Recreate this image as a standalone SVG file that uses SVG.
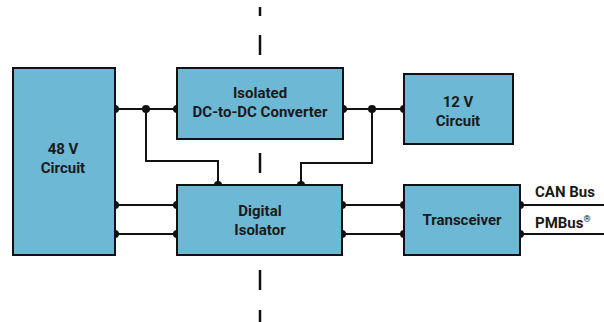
<svg xmlns="http://www.w3.org/2000/svg" width="604" height="322" viewBox="0 0 604 322">
<style>
.box{fill:#6db8d5;stroke:#111;stroke-width:2}
.t{font-family:Roboto,"Liberation Sans",sans-serif;font-weight:bold;font-size:15px;fill:#1a1a1a;text-anchor:middle}
.l{font-family:Roboto,"Liberation Sans",sans-serif;font-weight:bold;font-size:15px;fill:#1a1a1a}
.w{fill:none;stroke:#111;stroke-width:2}
.d{fill:#111}
.dash{stroke:#111;stroke-width:2.5}
</style>
<rect width="604" height="322" fill="#fff"/>
<g id="divider">
<line class="dash" x1="260" y1="7" x2="260" y2="16"/>
<line class="dash" x1="260" y1="35" x2="260" y2="55"/>
<line class="dash" x1="260" y1="153" x2="260" y2="173"/>
<line class="dash" x1="260" y1="270" x2="260" y2="290"/>
<line class="dash" x1="260" y1="310" x2="260" y2="322"/>
</g>
<g id="connectors">
<path class="w" d="M115 109H177M146 109V161H218V185"/>
<path class="w" d="M343 109H404M372 109V163H301V185"/>
<path class="w" d="M115 205H177M115 234H177"/>
<path class="w" d="M342 205H404M342 234H404"/>
<path class="w" d="M520 205H604M520 234H604"/>
<circle class="d" cx="115" cy="109" r="4"/>
<circle class="d" cx="146" cy="109" r="4"/>
<circle class="d" cx="177" cy="109" r="4"/>
<circle class="d" cx="343" cy="109" r="4"/>
<circle class="d" cx="372" cy="109" r="4"/>
<circle class="d" cx="404" cy="109" r="4"/>
<circle class="d" cx="218" cy="185" r="4"/>
<circle class="d" cx="301" cy="185" r="4"/>
<circle class="d" cx="115" cy="205" r="4"/>
<circle class="d" cx="115" cy="234" r="4"/>
<circle class="d" cx="177" cy="205" r="4"/>
<circle class="d" cx="177" cy="234" r="4"/>
<circle class="d" cx="342" cy="205" r="4"/>
<circle class="d" cx="342" cy="234" r="4"/>
<circle class="d" cx="404" cy="205" r="4"/>
<circle class="d" cx="404" cy="234" r="4"/>
<circle class="d" cx="520" cy="205" r="4"/>
<circle class="d" cx="520" cy="234" r="4"/>
</g>
<g id="n48v">
<rect class="box" x="13" y="68" width="102" height="187"/>
<text class="t" x="63" y="154">48 V</text>
<text class="t" x="63" y="173">Circuit</text>
</g>
<g id="dcdc">
<rect class="box" x="177" y="68" width="166" height="71"/>
<text class="t" x="260" y="98">Isolated</text>
<text class="t" x="260" y="117">DC-to-DC Converter</text>
</g>
<g id="n12v">
<rect class="box" x="404" y="74" width="109" height="70"/>
<text class="t" x="458" y="107">12 V</text>
<text class="t" x="458" y="126">Circuit</text>
</g>
<g id="isolator">
<rect class="box" x="177" y="185" width="165" height="70"/>
<text class="t" x="260" y="216">Digital</text>
<text class="t" x="260" y="235">Isolator</text>
</g>
<g id="transceiver">
<rect class="box" x="404" y="185" width="116" height="70"/>
<text class="t" x="462" y="225">Transceiver</text>
</g>
<g id="labels">
<text class="l" x="535" y="197">CAN Bus</text>
<text class="l" x="535" y="228">PMBus<tspan font-size="9" dy="-6">®</tspan></text>
</g>
</svg>
